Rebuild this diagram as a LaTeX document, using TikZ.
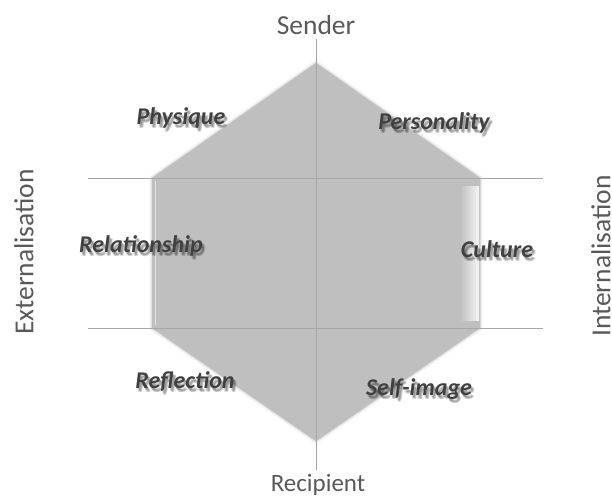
\documentclass[tikz,border=0pt]{standalone}
\usepackage{fontspec}
\setmainfont{Carlito}
\usetikzlibrary{shadows.blur}
\definecolor{hexfill}{HTML}{BFBFBF}
\definecolor{linecol}{HTML}{A6A6A6}
\definecolor{axistxt}{HTML}{595959}
\definecolor{labtxt}{HTML}{404040}
\newcommand\shadowlabel[3]{%
  \foreach \dx/\dy in {1/2,2/3,3/4,2/4,3/3}
    \node[lab, text=black, opacity=0.1] at ([shift={(\dx,\dy)}]#2) {#3};
  \node[lab] (#1) at (#2) {#3};
}
\begin{document}
\begin{tikzpicture}[x=1pt,y=-1pt,
  axis/.style={font=\fontsize{27.5}{27.5}\selectfont, text=axistxt, inner sep=0pt},
  lab/.style={font=\bfseries\itshape\fontsize{24}{24}\selectfont, text=labtxt, inner sep=0pt},
  grid line/.style={draw=linecol, line width=0.9pt}]
\useasboundingbox (0,0) rectangle (612,495);
% hexagon
\coordinate (top) at (316,63);
\coordinate (ul) at (152,178);
\coordinate (ll) at (152,328);
\coordinate (bot) at (316,441);
\coordinate (lr) at (480,328);
\coordinate (ur) at (480,178);
\path[fill=hexfill, blur shadow={shadow xshift=0pt, shadow yshift=0pt, shadow blur radius=3pt, shadow opacity=30}]
  (top) -- (ul) -- (ll) -- (bot) -- (lr) -- (ur) -- cycle;
\shade[left color=hexfill, right color=white!85!hexfill] (460,186) rectangle (479,320);
\draw[white!55!hexfill, line width=1pt] (155,181) -- (155,325);
% grid lines
\coordinate (h1l) at (88,178);
\coordinate (h1r) at (543,178);
\coordinate (h2l) at (88,328);
\coordinate (h2r) at (543,328);
\coordinate (vt) at (316,39);
\coordinate (vb) at (316,470);
\draw[grid line] (h1l) -- (h1r);
\draw[grid line] (h2l) -- (h2r);
\draw[grid line] (vt) -- (vb);
% axis labels
\node[axis] (sender) at (316,25) {Sender};
\node[axis, font=\fontsize{25}{25}\selectfont] (recipient) at (318,485) {Recipient};
\node[axis, rotate=90] (ext) at (24,252) {Externalisation};
\node[axis, rotate=90] (int) at (601,256) {Internalisation};
% facet labels
\shadowlabel{phys}{181,118}{Physique}
\shadowlabel{pers}{434,123}{Personality}
\shadowlabel{rel}{141,246}{Relationship}
\shadowlabel{cult}{497,249}{Culture}
\shadowlabel{refl}{185,381}{Reflection}
\shadowlabel{self}{419,389}{Self-image}
\end{tikzpicture}
\end{document}
